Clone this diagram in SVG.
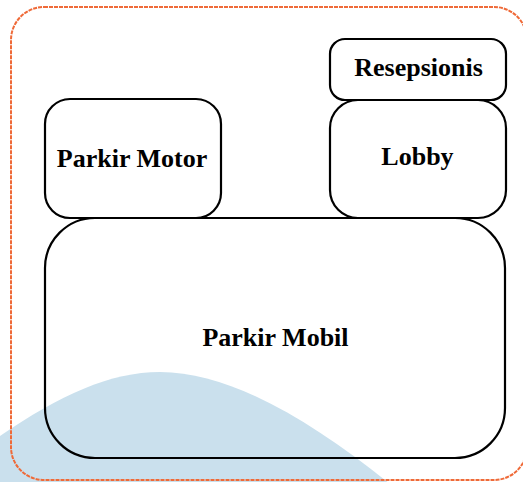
<svg xmlns="http://www.w3.org/2000/svg" width="523" height="482" viewBox="0 0 523 482">
  <style>
    .room { fill: none; stroke: #000; stroke-width: 2.2; }
    .label { font-family: "Liberation Serif", "Times New Roman", serif; font-weight: bold; font-size: 26px; fill: #000; text-anchor: middle; }
    .frame { fill: none; stroke: #ef6a38; stroke-width: 2; stroke-dasharray: 4 1; }
  </style>
  <rect width="523" height="482" fill="#fff"/>
  <!-- soft background hump -->
  <path d="M0,436 C60,395 110,372 160,372 C230,372 310,420 390,484 L0,484 Z" fill="#cae0ed"/>
  <!-- site boundary -->
  <rect class="frame" x="11" y="7" width="516" height="473" rx="33" ry="33"/>
  <g id="parkir-mobil">
    <rect class="room" x="45" y="218" width="460" height="240" rx="50" ry="50"/>
    <text class="label" x="275.5" y="346">Parkir Mobil</text>
  </g>
  <g id="parkir-motor">
    <rect class="room" x="45" y="99" width="176" height="119" rx="25" ry="25"/>
    <text class="label" x="132" y="167">Parkir Motor</text>
  </g>
  <g id="lobby">
    <rect class="room" x="330" y="100" width="176" height="118" rx="28" ry="28"/>
    <text class="label" x="417.5" y="165">Lobby</text>
  </g>
  <g id="resepsionis">
    <rect class="room" x="330" y="39" width="176" height="61" rx="15" ry="15"/>
    <text class="label" x="418.5" y="76">Resepsionis</text>
  </g>
  <g id="connectors"/>
</svg>
